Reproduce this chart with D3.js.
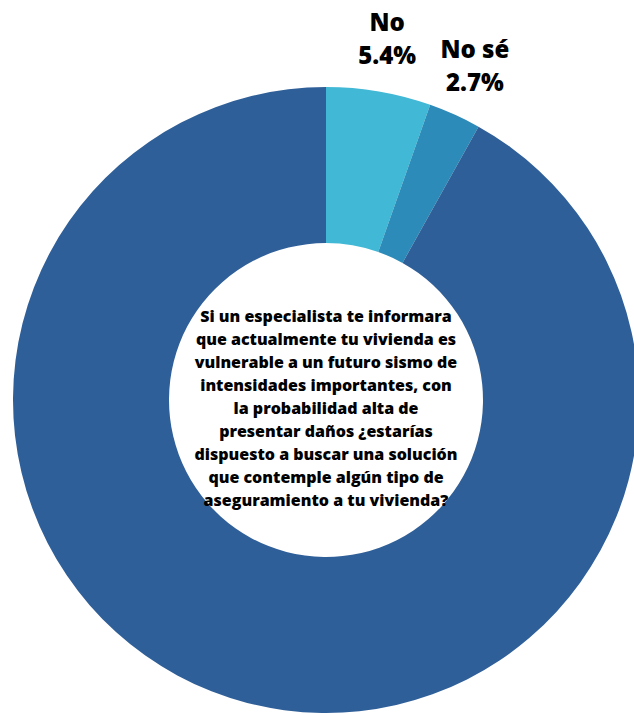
<!DOCTYPE html>
<html>
<head>
<meta charset="utf-8">
<script src="https://cdn.jsdelivr.net/npm/d3@7"></script>
<style>
    body { margin: 0; background: #fff; }
    text { font-family: "Open Sans", sans-serif; }
    .lbl { font-size: 24px; font-weight: 800; fill: #000; }
    .center { font-size: 16px; font-weight: 800; fill: #000; }
</style>
</head>
<body>
<svg id="chart" width="634" height="713"></svg>
<script>
var categories = ["No", "No sé", "Sí"];
var values = [5.4, 2.7, 91.9];
var colors = ["#41b8d5", "#2d8bba", "#2f5f98"];
var showLabel = [true, true, false];
var question = [
    "Si un especialista te informara",
    "que actualmente tu vivienda es",
    "vulnerable a un futuro sismo de",
    "intensidades importantes, con",
    "la probabilidad alta de",
    "presentar daños ¿estarías",
    "dispuesto a buscar una solución",
    "que contemple algún tipo de",
    "aseguramiento a tu vivienda?"
];

var cx = 326, cy = 400, r_out = 313, r_in = 157;
var svg = d3.select("#chart");
var g = svg.append("g").attr("transform", "translate(" + cx + "," + cy + ")");

var data = categories.map(function (c, i) {
    return {name: c, value: values[i], color: colors[i], show: showLabel[i]};
});
var pie = d3.pie().sort(null).value(function (d) { return d.value; });
var arc = d3.arc().innerRadius(r_in).outerRadius(r_out);
var labelArc = d3.arc().innerRadius(362).outerRadius(362);

var arcs = pie(data);
g.selectAll("path.slice")
    .data(arcs)
    .enter().append("path")
    .attr("class", "slice")
    .attr("d", arc)
    .attr("fill", function (d) { return d.data.color; });

var lbl = g.selectAll("text.lbl")
    .data(arcs.filter(function (d) { return d.data.show; }))
    .enter().append("text")
    .attr("class", "lbl")
    .attr("text-anchor", "middle")
    .attr("transform", function (d) {
        var c = labelArc.centroid(d);
        return "translate(" + c[0] + "," + c[1] + ")";
    });
lbl.append("tspan").attr("x", 0).attr("y", -12).text(function (d) { return d.data.name; });
lbl.append("tspan").attr("x", 0).attr("y", 21).text(function (d) { return d.data.value.toFixed(1) + "%"; });

// question in the hole
var lh = 23;
var top0 = -((question.length - 1) * lh) / 2;
g.append("text")
    .attr("class", "center")
    .attr("text-anchor", "middle")
    .selectAll("tspan")
    .data(question)
    .enter().append("tspan")
    .attr("x", 0)
    .attr("y", function (d, i) { return top0 + i * lh + 14; })
    .text(function (d) { return d; });
</script>
</body>
</html>
